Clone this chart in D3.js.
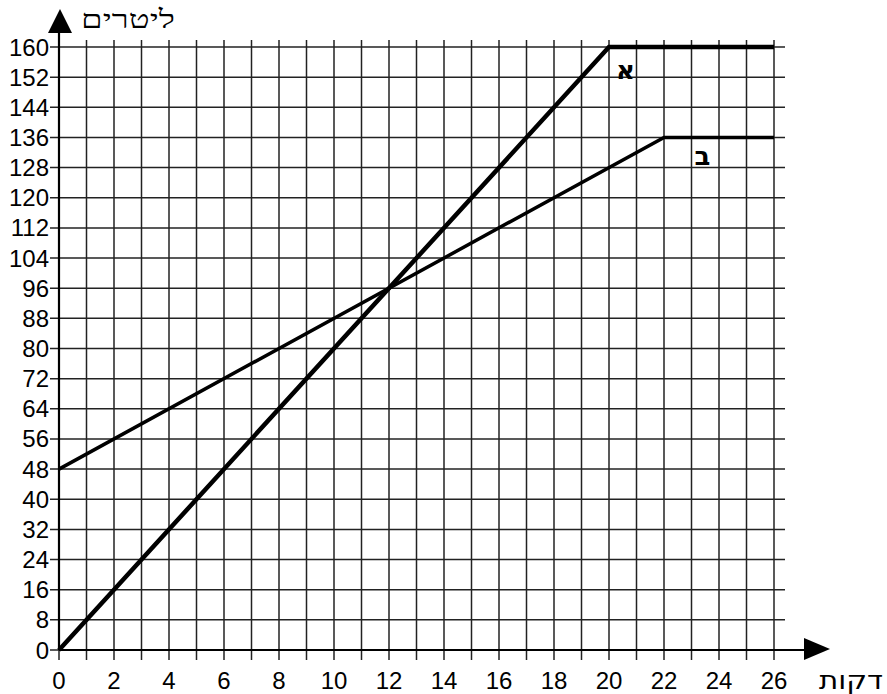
<!DOCTYPE html>
<html>
<head>
<meta charset="utf-8">
<script src="https://cdn.jsdelivr.net/npm/d3@7"></script>
<style>
  body { margin: 0; background: #fff; }
  svg { display: block; }
  text { font-family: "Liberation Sans", sans-serif; fill: #000; }
</style>
</head>
<body>
<svg id="chart" width="887" height="694"></svg>
<script>
"use strict";

// data
var xTicks = d3.range(0, 27, 2);
var yTicks = d3.range(0, 161, 8);
var gridX = d3.range(0, 27, 1);
var lineA = [[0, 0], [20, 160], [26, 160]];
var lineB = [[0, 48], [22, 136], [26, 136]];
var labelA = { name: "א", x: 20.6, y: 154 };
var labelB = { name: "ב", x: 23.4, y: 131 };
var xTitle = "דקות";
var yTitle = "ליטרים";

var svg = d3.select("#chart");

var x = d3.scaleLinear().domain([0, 26]).range([59, 774]);
var y = d3.scaleLinear().domain([0, 160]).range([650, 47]);

// vertical grid, each minute
svg.append("g")
  .selectAll("line")
  .data(gridX)
  .enter()
  .append("line")
  .attr("x1", function(d){ return x(d); })
  .attr("x2", function(d){ return x(d); })
  .attr("y1", y(160) - 7)
  .attr("y2", y(0) + 10)
  .attr("stroke", "#222")
  .attr("stroke-width", 1.5);

// horizontal grid
svg.append("g")
  .selectAll("line")
  .data(yTicks)
  .enter()
  .append("line")
  .attr("x1", x(0) - 9)
  .attr("x2", x(26) + 11)
  .attr("y1", function(d){ return y(d); })
  .attr("y2", function(d){ return y(d); })
  .attr("stroke", "#222")
  .attr("stroke-width", 1.5);

// axes with arrows
svg.append("line")
  .attr("x1", x(0)).attr("x2", 806)
  .attr("y1", y(0)).attr("y2", y(0))
  .attr("stroke", "#000").attr("stroke-width", 2.2);
svg.append("path")
  .attr("d", "M804,638 L830,649 L804,660 Z")
  .attr("fill", "#000");

svg.append("line")
  .attr("x1", x(0)).attr("x2", x(0))
  .attr("y1", y(0)).attr("y2", 30)
  .attr("stroke", "#000").attr("stroke-width", 2.2);
svg.append("path")
  .attr("d", "M48,33 L60,9 L72,33 Z")
  .attr("fill", "#000");

// tick labels
svg.append("g")
  .selectAll("text")
  .data(yTicks)
  .enter()
  .append("text")
  .attr("x", 49)
  .attr("y", function(d){ return y(d) + 8.5; })
  .attr("text-anchor", "end")
  .style("font-size", "24px")
  .text(function(d){ return d; });

svg.append("g")
  .selectAll("text")
  .data(xTicks)
  .enter()
  .append("text")
  .attr("x", function(d){ return x(d); })
  .attr("y", 689)
  .attr("text-anchor", "middle")
  .style("font-size", "24px")
  .text(function(d){ return d; });

// axis titles
svg.append("text")
  .attr("x", 81).attr("y", 28)
  .attr("textLength", 94)
  .attr("lengthAdjust", "spacingAndGlyphs")
  .style("font-family", "DejaVu Sans")
  .style("font-weight", "300")
  .style("font-size", "26px")
  .text(yTitle);

svg.append("text")
  .attr("x", 819).attr("y", 689)
  .attr("textLength", 64)
  .attr("lengthAdjust", "spacingAndGlyphs")
  .style("font-family", "DejaVu Sans")
  .style("font-size", "26px")
  .text(xTitle);

// the two lines
var line = d3.line()
  .x(function(d){ return x(d[0]); })
  .y(function(d){ return y(d[1]); });

svg.append("path")
  .datum(lineB)
  .attr("d", line)
  .attr("fill", "none")
  .attr("stroke", "#000")
  .attr("stroke-width", 3.5);

svg.append("path")
  .datum(lineA)
  .attr("d", line)
  .attr("fill", "none")
  .attr("stroke", "#000")
  .attr("stroke-width", 4.5);

svg.append("g")
  .selectAll("text")
  .data([labelA, labelB])
  .enter()
  .append("text")
  .attr("x", function(d){ return x(d.x); })
  .attr("y", function(d){ return y(d.y) + 9; })
  .attr("text-anchor", "middle")
  .style("font-family", "DejaVu Sans")
  .style("font-size", "26px")
  .style("font-weight", "bold")
  .text(function(d){ return d.name; });
</script>
</body>
</html>
